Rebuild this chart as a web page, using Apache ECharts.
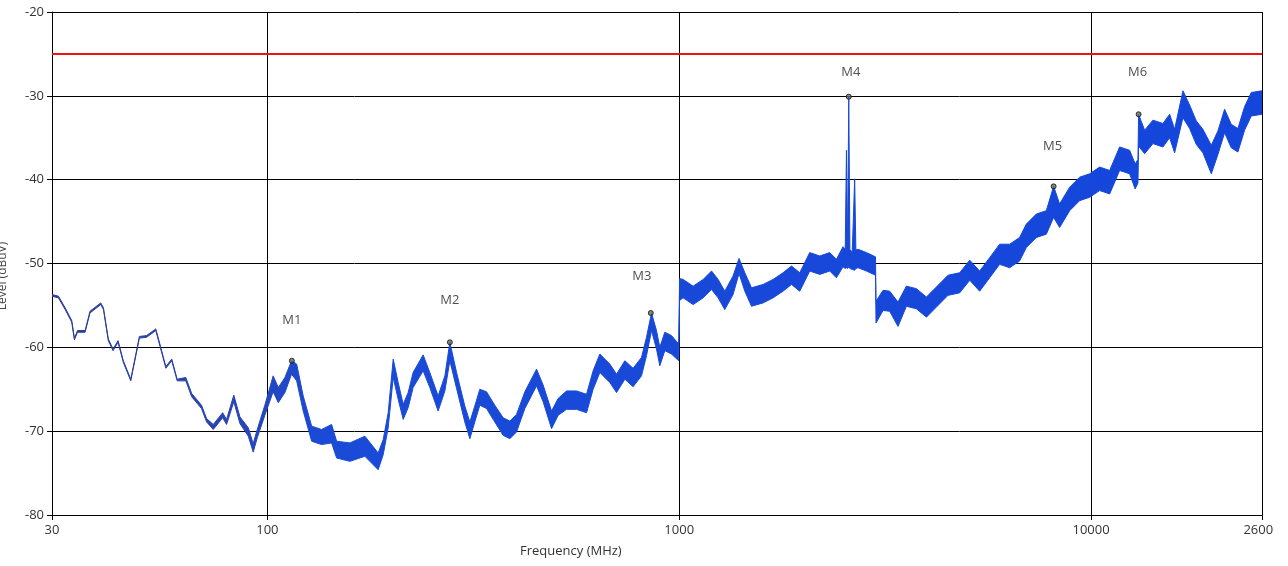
<!DOCTYPE html>
<html>
<head>
<meta charset="utf-8">
<title>Emission scan</title>
<script src="https://cdn.jsdelivr.net/npm/echarts@6/dist/echarts.min.js"></script>
<style>
  html, body { margin: 0; padding: 0; background: #fff; }
  #chart { width: 1274px; height: 566px; }
</style>
</head>
<body>
<div id="chart"></div>
<script>
// frequencies where the trace was read (MHz)
const freqMHz = [
  30.0, 31.1, 32.3, 33.5, 34.0, 34.6, 36.1, 37.1, 39.4, 40.0,
  41.1, 42.2, 43.4, 44.7, 46.6, 48.9, 50.9, 53.6, 55.1, 56.7,
  58.6, 60.4, 63.4, 65.5, 69.2, 71.2, 73.9, 77.9, 79.6, 82.9,
  85.8, 89.9, 92.4, 94.5, 98.6,
  103.3, 106.3, 110.3, 114.5, 117.8, 122.2, 128.1, 135.4, 143.2, 147.3,
  158.6, 172.5, 185.8, 191.1, 196.5, 202.1, 207.8, 213.7, 219.7, 225.9,
  238.9, 248.0, 259.8, 269.8, 277.4, 288.0, 301.6, 310.2, 318.9, 328.0,
  340.5, 356.6, 373.6, 387.9, 402.7, 421.9, 450.4, 467.3, 489.8, 508.2,
  532.6, 563.2, 595.6, 618.0, 641.6, 678.5, 704.3, 737.9, 772.7, 809.9,
  832.8, 856.5, 880.7, 897.1, 922.6, 957.6, 997,
  1002, 1022, 1081, 1143, 1198, 1243, 1290, 1351, 1397, 1443,
  1498, 1598, 1690, 1787, 1873, 1962, 2074, 2194, 2320, 2408,
  2499, 2530, 2547, 2563, 2580, 2597, 2631, 2667, 2685, 2717,
  2848, 2966, 2996, 3005, 3125, 3244, 3398, 3561, 3766, 3983,
  4211, 4494, 4798, 5074, 5364, 5672, 5998, 6342, 6706, 6962,
  7363, 7786, 8110, 8387, 8872, 9380, 9920, 10490, 11094, 11729,
  12404, 12793, 12995, 13043, 13490, 14132, 14943, 15515, 15953, 16711,
  17347, 18010, 18686, 19584, 20318, 21095, 21896, 22722, 23586, 24487,
  26000
];

// upper edge of the trace (dBuV)
const levelHigh = [
  -53.7, -53.9, -55.3, -56.8, -58.9, -58.0, -58.0, -55.7, -54.7, -55.3,
  -59.0, -60.2, -59.2, -61.6, -63.8, -58.7, -58.6, -57.8, -60.0, -62.3,
  -61.4, -63.8, -63.6, -65.5, -66.9, -68.5, -69.2, -67.8, -68.6, -65.7,
  -68.3, -69.6, -71.5, -69.8, -66.9,
  -63.4, -64.8, -63.6, -61.6, -62.0, -65.8, -69.4, -69.8, -69.2, -71.2,
  -71.4, -70.6, -72.6, -71.0, -67.8, -61.4, -64.2, -66.8, -65.4, -63.0,
  -60.9, -63.0, -65.8, -63.4, -59.4, -63.0, -67.0, -68.9, -67.0, -65.0,
  -65.3, -66.9, -68.4, -68.8, -68.0, -65.3, -62.6, -64.5, -67.6, -66.1,
  -65.2, -65.2, -65.6, -62.8, -60.8, -62.0, -63.2, -61.6, -62.5, -61.2,
  -58.8, -55.9, -58.0, -60.0, -58.2, -58.6, -59.6,
  -51.8, -51.9, -52.7, -51.9, -50.9, -51.9, -53.3, -51.5, -49.4, -51.1,
  -52.9, -52.5, -51.9, -51.1, -50.3, -51.1, -48.7, -49.1, -48.7, -49.5,
  -48.0, -48.3, -36.5, -48.5, -30.1, -48.4, -48.6, -39.9, -48.4, -48.3,
  -48.7, -49.1, -49.2, -54.5, -53.2, -53.3, -54.6, -52.7, -53.0, -54.0,
  -52.8, -51.4, -51.1, -49.6, -50.9, -49.3, -47.7, -47.7, -46.9, -45.3,
  -44.1, -43.7, -40.8, -42.9, -40.9, -39.7, -39.3, -38.5, -38.9, -36.1,
  -36.5, -38.1, -37.6, -32.2, -34.1, -32.9, -33.3, -32.2, -34.0, -29.4,
  -31.1, -33.0, -34.0, -35.9, -34.2, -31.6, -33.4, -33.9, -31.3, -29.6,
  -29.4
];

// lower edge of the trace (dBuV)
const levelLow = [
  -53.9, -54.1, -55.5, -57.0, -59.1, -58.2, -58.2, -55.9, -54.9, -55.5,
  -59.2, -60.4, -59.4, -61.8, -64.0, -58.9, -58.8, -58.0, -60.2, -62.5,
  -61.6, -64.0, -64.0, -65.9, -67.3, -68.9, -69.8, -68.4, -69.2, -66.5,
  -69.1, -70.6, -72.5, -70.8, -68.1,
  -65.3, -66.6, -65.4, -63.2, -64.0, -67.6, -71.2, -71.6, -71.4, -73.2,
  -73.6, -73.0, -74.6, -72.8, -69.6, -63.6, -66.2, -68.6, -67.2, -64.8,
  -62.8, -64.8, -67.6, -65.2, -61.6, -64.9, -68.9, -70.9, -68.9, -66.9,
  -67.3, -68.9, -70.5, -70.9, -70.1, -67.3, -64.6, -66.5, -69.7, -68.1,
  -67.4, -67.4, -67.8, -65.0, -63.0, -64.2, -65.4, -63.8, -64.7, -63.4,
  -61.0, -58.0, -60.2, -62.2, -60.4, -60.8, -61.6,
  -54.4, -54.1, -54.9, -54.1, -53.1, -54.1, -55.5, -53.7, -51.2, -53.3,
  -55.1, -54.7, -54.1, -53.3, -52.5, -53.3, -50.9, -51.3, -50.9, -51.7,
  -50.4, -50.6, -50.5, -50.6, -50.4, -50.6, -50.7, -50.8, -50.6, -50.5,
  -50.9, -51.3, -51.4, -57.1, -55.6, -55.7, -57.5, -55.1, -55.4, -56.4,
  -55.2, -53.8, -53.5, -52.0, -53.3, -51.7, -50.1, -50.5, -49.7, -48.1,
  -46.9, -46.5, -44.5, -45.7, -43.7, -42.5, -42.1, -41.3, -41.7, -38.9,
  -39.3, -41.1, -40.4, -36.0, -36.9, -35.7, -36.1, -35.0, -36.8, -32.6,
  -33.9, -35.8, -36.8, -39.3, -37.0, -34.4, -36.2, -36.7, -34.1, -32.4,
  -32.2
];

const limitLevel = -25;

const markerNames = ['M1', 'M2', 'M3', 'M4', 'M5', 'M6'];
const markerFreq = [114.7, 277.4, 853, 2580, 8110, 13043];
const markerLevel = [-61.6, -59.4, -55.9, -30.1, -40.8, -32.2];

const freqRange = [30, 26000];
const levelRange = [-80, -20];

// label placement relative to each marker (px)
const markerLabelShift = [[0, -26], [0, -28], [-9, -22], [2, -10], [-1, -26], [-1, -27]];

function traceColor() {
  return new echarts.graphic.LinearGradient(0, 0, 1, 0, [
    { offset: 0, color: '#2b3d96' },
    { offset: 0.15, color: '#2944b2' },
    { offset: 0.22, color: '#1a4ad6' },
    { offset: 1, color: '#1446dc' }
  ]);
}

// the whole noisy trace is one polygon: top edge left->right, bottom edge back
function renderTrace(params, api) {
  if (params.dataIndex !== 0) return null;
  const top = freqMHz.map((f, i) => api.coord([f, levelHigh[i]]));
  const bottom = freqMHz.map((f, i) => api.coord([f, levelLow[i]])).reverse();
  return {
    type: 'polygon',
    shape: { points: top.concat(bottom) },
    style: { fill: traceColor(), stroke: traceColor(), lineWidth: 1, lineJoin: 'bevel' }
  };
}

const markerData = markerNames.map((n, i) => ({
  name: n,
  value: [markerFreq[i], markerLevel[i]],
  label: { offset: markerLabelShift[i] }
}));

const chart = echarts.init(document.getElementById('chart'));

chart.setOption({
  animation: false,
  backgroundColor: '#fff',
  textStyle: { fontFamily: 'Open Sans' },
  grid: { left: 52, right: 12, top: 12, bottom: 51, outerBoundsMode: 'none', containLabel: false },
  xAxis: {
    type: 'log',
    logBase: 10,
    min: freqRange[0],
    max: freqRange[1],
    axisLine: { lineStyle: { color: '#000', width: 1 } },
    axisTick: { show: true, length: 5, lineStyle: { color: '#000' } },
    axisLabel: {
      color: '#333',
      fontSize: 13,
      margin: 9,
      formatter: v => String(Math.round(v))
    },
    splitLine: { show: true, lineStyle: { color: '#000', width: 1 } }
  },
  yAxis: {
    type: 'value',
    min: levelRange[0],
    max: levelRange[1],
    interval: 10,
    axisLine: { show: true, lineStyle: { color: '#000', width: 1 } },
    axisTick: { show: true, length: 5, lineStyle: { color: '#000' } },
    axisLabel: { color: '#333', fontSize: 13, margin: 8 },
    splitLine: { show: true, lineStyle: { color: '#000', width: 1 } }
  },
  graphic: [
    {
      type: 'text',
      left: 520,
      top: 545,
      style: { text: 'Frequency (MHz)', fontSize: 13, fill: '#333', fontFamily: 'Open Sans' }
    },
    {
      // y title sits half off the left edge, as in the source screenshot
      type: 'text',
      x: 3,
      y: 276,
      rotation: Math.PI / 2,
      style: {
        text: 'Level (dBuV)', fontSize: 12, fill: '#444', fontFamily: 'Open Sans',
        align: 'center', verticalAlign: 'middle'
      }
    }
  ],
  series: [
    {
      type: 'custom',
      coordinateSystem: 'cartesian2d',
      data: [[freqMHz[0], levelLow[0]]],
      renderItem: renderTrace,
      clip: true,
      z: 3
    },
    {
      // limit line
      type: 'line',
      data: [[freqRange[0], limitLevel], [freqRange[1], limitLevel]],
      symbol: 'none',
      lineStyle: { color: '#ee1414', width: 2 },
      z: 4
    },
    {
      type: 'scatter',
      data: markerData,
      symbol: 'circle',
      symbolSize: 5,
      itemStyle: { color: '#666', borderColor: '#111', borderWidth: 1 },
      label: {
        show: true,
        position: 'top',
        formatter: p => p.name,
        color: '#222',
        fontSize: 13
      },
      z: 5
    }
  ]
});
</script>
</body>
</html>
